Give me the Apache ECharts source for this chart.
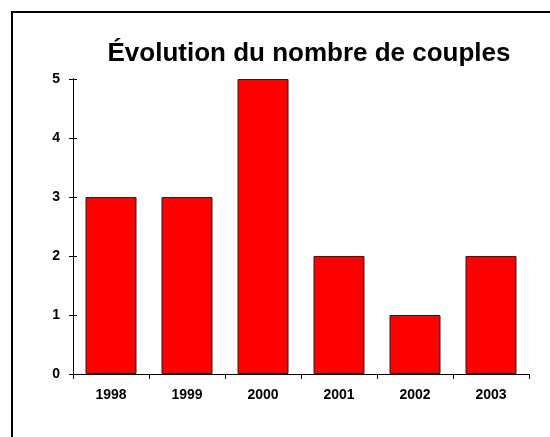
<!DOCTYPE html>
<html>
<head>
<meta charset="utf-8">
<script src="https://cdn.jsdelivr.net/npm/echarts@6/dist/echarts.min.js"></script>
<style>
    html, body {margin: 0; padding: 0; background: #fff;}
    #chart {width: 550px; height: 437px;}
</style>
</head>
<body>
<div id="chart"></div>
<script>
const title_text = "Évolution du nombre de couples";
const years = ['1998', '1999', '2000', '2001', '2002', '2003'];
const couples = [3, 3, 5, 2, 1, 2];

const font_family = "'Liberation Sans', Arial, sans-serif";

let my_chart = echarts.init(document.getElementById('chart'));

let y_axis_base = {
    type: 'value', min: 0, max: 5, interval: 1, position: 'left',
    axisLine: {show: true, lineStyle: {color: '#000', width: 1}},
    splitLine: {show: false},
};

let option = {
    animation: false,
    backgroundColor: '#fff',
    grid: {left: 73, right: 21, top: 79, bottom: 63},
    graphic: [{
        type: 'rect', silent: true,
        shape: {x: 12, y: 12, width: 600, height: 500},
        style: {fill: 'none', stroke: '#000', lineWidth: 2}
    }, {
        type: 'text', silent: true,
        style: {
            text: title_text, x: 309, y: 54, align: 'center', verticalAlign: 'middle',
            font: "bold 26px 'Liberation Sans', Arial, sans-serif", fill: '#000'
        }
    }],
    xAxis: {
        type: 'category', data: years,
        axisLine: {lineStyle: {color: '#000', width: 1}},
        axisTick: {show: true, length: 5, alignWithLabel: false, lineStyle: {color: '#000'}},
        axisLabel: {
            color: '#000', fontWeight: 'bold', fontSize: 14, fontFamily: font_family, margin: 14
        }
    },
    yAxis: [Object.assign({}, y_axis_base, {
        axisTick: {show: true, length: 4, lineStyle: {color: '#000'}},
        axisLabel: {color: '#000', fontWeight: 'bold', fontSize: 14, fontFamily: font_family, margin: 13}
    }), Object.assign({}, y_axis_base, {
        axisTick: {show: true, inside: true, length: 4, lineStyle: {color: '#000'}},
        axisLabel: {show: false}
    })],
    series: [{
        type: 'bar', data: couples, barWidth: 51,
        itemStyle: {color: '#ff0000', borderColor: '#222', borderWidth: 1}
    }]
};
my_chart.setOption(option);
</script>
</body>
</html>
